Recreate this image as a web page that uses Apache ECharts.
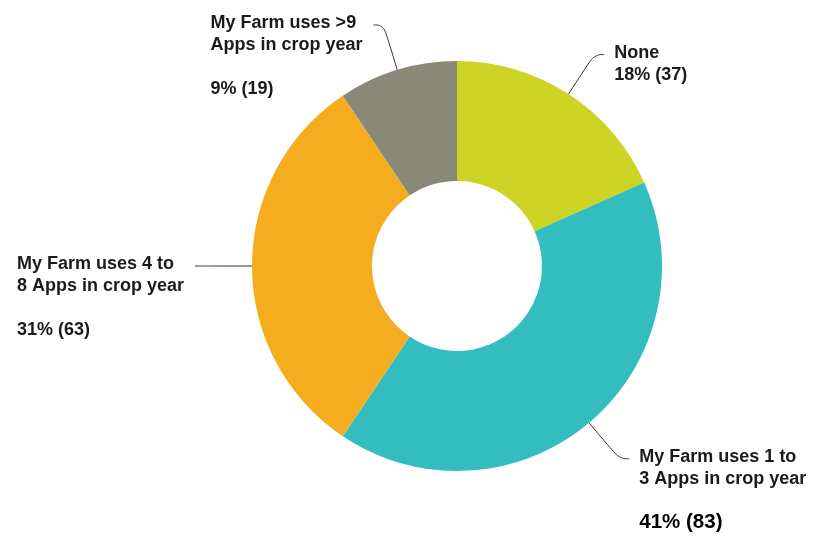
<!DOCTYPE html>
<html>
<head>
<meta charset="utf-8">
<script src="https://cdn.jsdelivr.net/npm/echarts@6/dist/echarts.min.js"></script>
<style>html,body{margin:0;padding:0;background:#fff}#c{width:816px;height:538px}</style>
</head>
<body>
<div id="c"></div>
<script>
const categories = ['None', 'My Farm uses 1 to 3 Apps in crop year', 'My Farm uses 4 to 8 Apps in crop year', 'My Farm uses >9 Apps in crop year'];
const labelTexts = [['None'], ['My Farm uses 1 to', '3 Apps in crop year'], ['My Farm uses 4 to', '8 Apps in crop year'], ['My Farm uses >9', 'Apps in crop year']];
const values = [37, 83, 63, 19];
const colors = ['#CDD426', '#33BDBE', '#F5AD1F', '#8A8978'];
const gapBeforePercent = [false, true, true, true];
const bigPercent = [false, true, false, false];

const chart = echarts.init(document.getElementById('c'), null, {renderer: 'canvas'});
const FONT = '"Liberation Sans", Arial, sans-serif';
const LH = 22;

chart.setOption({
  animation: false,
  series: [{
    type: 'pie',
    center: [457, 266],
    radius: [85, 205],
    startAngle: 90,
    clockwise: true,
    avoidLabelOverlap: false,
    data: categories.map((n, i) => ({name: n, value: values[i], itemStyle: {color: colors[i]}})),
    label: {
      show: true,
      position: 'outside',
      formatter: function (p) {
        const i = p.dataIndex;
        const lines = labelTexts[i].map(t => '{t|' + t + '}');
        if (gapBeforePercent[i]) lines.push('{g| }');
        const pct = Math.round(p.percent) + '% (' + p.value + ')';
        lines.push((bigPercent[i] ? '{b|' : '{t|') + pct + '}');
        return lines.join('\n');
      },
      rich: {
        t: {fontFamily: FONT, fontWeight: 'bold', fontSize: 18, lineHeight: LH, color: '#1a1a1a'},
        g: {fontFamily: FONT, fontSize: 18, lineHeight: LH},
        b: {fontFamily: FONT, fontWeight: 'bold', fontSize: 20.5, lineHeight: LH, color: '#000'}
      }
    },
    labelLine: {
      show: true,
      length: 47,
      length2: 10,
      smooth: 0.45,
      lineStyle: {color: '#333', width: 1}
    },
    labelLayout: function (params) {
      const pts = params.labelLinePoints;
      if (!pts) return {};
      const end = pts[pts.length - 1];
      const right = end[0] > 457;
      const w = params.labelRect.width;
      return {
        x: right ? end[0] + 10 : end[0] - 11 - w,
        y: end[1] - LH / 2 - 2,
        align: 'left',
        verticalAlign: 'top',
        labelLinePoints: pts
      };
    }
  }]
});
</script>
</body>
</html>
